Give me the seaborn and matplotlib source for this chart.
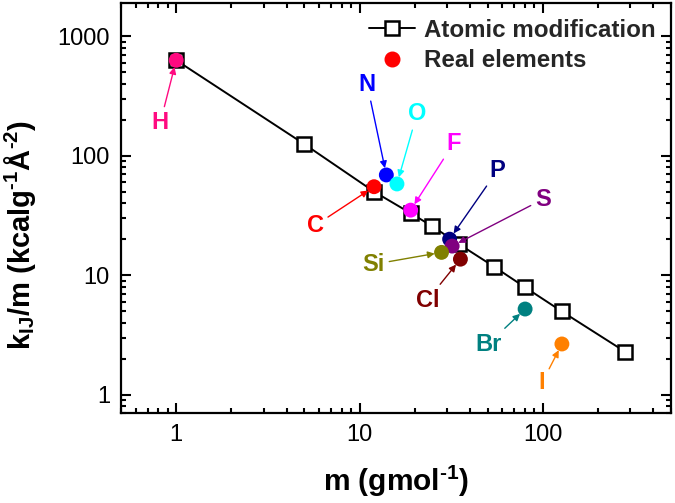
import numpy as np
import pandas as pd
import matplotlib
matplotlib.use("Agg")
import matplotlib.pyplot as plt
import matplotlib.ticker as mticker
from matplotlib.lines import Line2D
import seaborn as sns

# ---------------- data ----------------
mod_mass = [1, 5, 12, 19, 25, 35, 54, 80, 127, 280]
mod_k = [630, 125, 50, 33, 25.6, 18.1, 11.8, 7.9, 4.96, 2.29]

elements = ["H", "C", "N", "O", "F", "P", "S", "Si", "Cl", "Br", "I"]
elem_mass = [1.0, 12.0, 14.0, 16.0, 19.0, 31.0, 32.0, 28.0, 35.5, 80.0, 127.0]
elem_k = [630, 55, 69, 58, 35, 20, 17.5, 15.5, 13.6, 5.2, 2.65]
elem_colors = ["#FF0A80", "#FF0000", "#0000FF", "#00FFFF", "#FF00FF", "#000080",
               "#800080", "#808000", "#800000", "#008080", "#FF8000"]

legend_labels = ["Atomic modification", "Real elements"]
x_label = "m (gmol$^{\\mathbf{\u20101}}$)"
y_label = "k$_{\\mathbf{IJ}}$/m (kcalg$^{\\mathbf{\u20101}}$Å$^{\\mathbf{\u20102}}$)"

# label offsets (points) of annotation text relative to each element marker
label_offsets = {
    "H": (-11.5, -45), "C": (-42.5, -28), "N": (-13.7, 64.8), "O": (14.4, 50.4),
    "F": (31, 48.2), "P": (34.6, 49.7), "S": (65.5, 33.8), "Si": (-49, -8.6),
    "Cl": (-23.8, -29.5), "Br": (-26.6, -25.2), "I": (-14.4, -28),
}

# ---------------- style ----------------
sns.set_theme(style="ticks")
plt.rcParams["font.family"] = ["Liberation Sans", "DejaVu Sans"]
plt.rcParams["mathtext.fontset"] = "custom"
plt.rcParams["mathtext.rm"] = "Liberation Sans"
plt.rcParams["mathtext.bf"] = "Liberation Sans:bold"
plt.rcParams["mathtext.it"] = "Liberation Sans:italic"

fig = plt.figure(figsize=(6.75, 5.03), dpi=100)
ax = fig.add_axes([0.1793, 0.1789, 0.8148, 0.8151])

df_mod = pd.DataFrame({"m": mod_mass, "k": mod_k})
df_el = pd.DataFrame({"m": elem_mass, "k": elem_k, "el": elements})

sns.lineplot(data=df_mod, x="m", y="k", ax=ax, color="black", linewidth=1.4,
             marker="s", markersize=10, markerfacecolor="white",
             markeredgecolor="black", markeredgewidth=1.8, sort=False,
             zorder=2)
sns.scatterplot(data=df_el, x="m", y="k", hue="el",
                palette=dict(zip(elements, elem_colors)), s=115,
                edgecolor="none", linewidth=0, legend=False, ax=ax, zorder=3)

ax.set_xscale("log")
ax.set_yscale("log")
ax.set_xlim(0.5, 500)
ax.set_ylim(0.7, 1900)

fmt = mticker.FuncFormatter(lambda v, _: f"{v:g}")
ax.xaxis.set_major_formatter(fmt)
ax.yaxis.set_major_formatter(fmt)
ax.xaxis.set_minor_formatter(mticker.NullFormatter())
ax.yaxis.set_minor_formatter(mticker.NullFormatter())
ax.xaxis.set_major_locator(mticker.LogLocator(base=10, numticks=10))
ax.yaxis.set_major_locator(mticker.LogLocator(base=10, numticks=10))
ax.xaxis.set_minor_locator(mticker.LogLocator(base=10, subs=np.arange(2, 10), numticks=10))
ax.yaxis.set_minor_locator(mticker.LogLocator(base=10, subs=np.arange(2, 10), numticks=10))

ax.tick_params(which="both", direction="in", top=True, right=True,
               width=1.5, color="black", labelsize=17, labelcolor="black")
ax.tick_params(which="major", length=7, pad=8)
ax.tick_params(which="minor", length=3.5)
for sp in ax.spines.values():
    sp.set_linewidth(1.6)
    sp.set_color("black")

ax.set_xlabel(x_label, fontsize=21.5, fontweight="bold", color="black")
ax.set_ylabel(y_label, fontsize=21, fontweight="bold", color="black")
ax.xaxis.set_label_coords(0.5, -0.125)
ax.xaxis.label.set_va("top")
ax.yaxis.set_label_coords(-0.151, 0.434)

for el, mx, ky, c in zip(elements, elem_mass, elem_k, elem_colors):
    dx, dy = label_offsets[el]
    ax.annotate(el, xy=(mx, ky), xytext=(dx, dy), textcoords="offset points",
                ha="center", va="center", fontsize=17, fontweight="bold",
                color=c,
                arrowprops=dict(arrowstyle="-|>", color=c, lw=1.0,
                                shrinkA=1, shrinkB=5, mutation_scale=10))

handles = [
    Line2D([], [], color="black", lw=1.4, marker="s", markersize=10,
           markerfacecolor="white", markeredgecolor="black", markeredgewidth=1.8),
    Line2D([], [], color="#FF0000", lw=0, marker="o", markersize=10.5),
]
ax.legend(handles, legend_labels, loc="upper right", bbox_to_anchor=(1.0, 1.0),
          frameon=False, prop={"weight": "bold", "size": 17.4},
          handlelength=1.9, handletextpad=0.35, labelspacing=0.3,
          borderaxespad=0.25, borderpad=0.4, numpoints=1)

fig.savefig("out.png", dpi=100)
